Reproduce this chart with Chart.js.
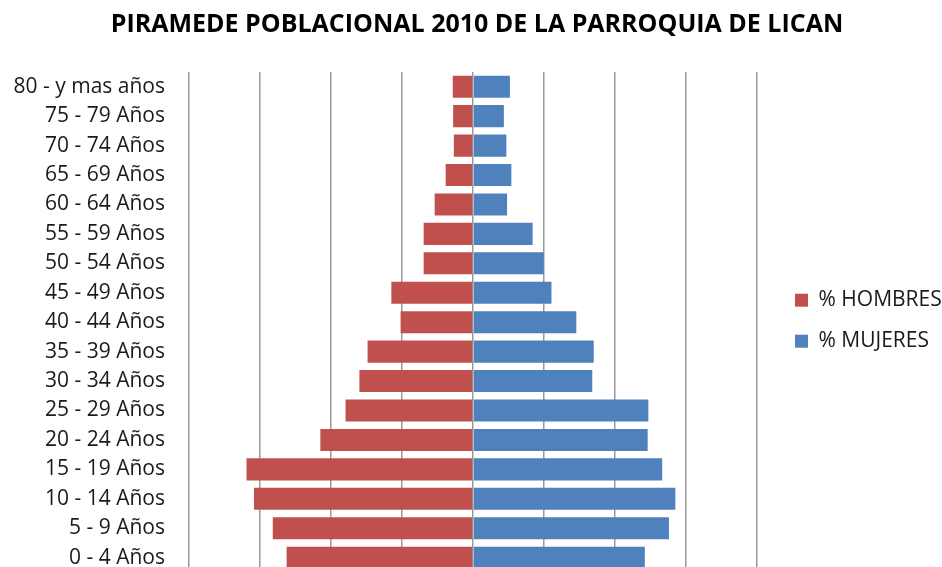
<!DOCTYPE html>
<html>
<head>
<meta charset="utf-8">
<script src="https://cdn.jsdelivr.net/npm/chart.js@4.4.1/dist/chart.umd.min.js"></script>
<style>
  html, body { margin: 0; padding: 0; background: #fff; overflow: hidden; }
  canvas { display: block; }
</style>
</head>
<body>
<canvas id="piramide" width="942" height="609"></canvas>
<script>
// grupos de edad, de arriba hacia abajo
var grupos = [
    '80 - y mas años', '75 - 79 Años', '70 - 74 Años', '65 - 69 Años',
    '60 - 64 Años', '55 - 59 Años', '50 - 54 Años', '45 - 49 Años',
    '40 - 44 Años', '35 - 39 Años', '30 - 34 Años', '25 - 29 Años',
    '20 - 24 Años', '15 - 19 Años', '10 - 14 Años', '5 - 9 Años', '0 - 4 Años'
];
// porcentajes
var hombres = [0.57, 0.56, 0.54, 0.77, 1.08, 1.39, 1.39, 2.30, 2.04, 2.97, 3.20, 3.59, 4.30, 6.38, 6.17, 5.64, 5.25];
var mujeres = [1.04, 0.87, 0.94, 1.08, 0.96, 1.68, 1.99, 2.21, 2.91, 3.40, 3.36, 4.94, 4.92, 5.33, 5.70, 5.52, 4.84];

var fuente = '"Open Sans", "Noto Sans", sans-serif';

var ctx = document.getElementById('piramide').getContext('2d');
var piramide = new Chart(ctx, {
    type: 'bar',
    data: {
        labels: grupos,
        datasets: [{
            label: '% HOMBRES',
            data: hombres.map(function (v) { return -v; }),
            backgroundColor: '#C0504D',
            barPercentage: 0.75,
            categoryPercentage: 1
        }, {
            label: '% MUJERES',
            data: mujeres,
            backgroundColor: '#4F81BD',
            barPercentage: 0.75,
            categoryPercentage: 1
        }]
    },
    options: {
        indexAxis: 'y',
        responsive: false,
        animation: false,
        layout: { padding: { left: 12, right: 0, top: 0, bottom: 8 } },
        scales: {
            x: {
                stacked: true,
                min: -8,
                max: 8,
                ticks: { display: false, stepSize: 2 },
                grid: { color: '#9a9a9a', lineWidth: 1.5, drawTicks: false },
                border: { display: false }
            },
            y: {
                stacked: true,
                grid: { display: false, drawTicks: false },
                border: { display: false },
                ticks: { color: '#1a1a1a', padding: 24, font: { family: fuente, size: 21 } },
                afterFit: function (s) { s.width = 177; }
            },
            hueco: {
                type: 'category',
                labels: grupos,
                position: 'right',
                grid: { display: false, drawTicks: false },
                border: { display: false },
                ticks: { display: false },
                afterFit: function (s) { s.width = 18; }
            }
        },
        plugins: {
            title: {
                display: true,
                text: 'PIRAMEDE POBLACIONAL 2010 DE LA PARROQUIA DE LICAN',
                color: '#000',
                font: { family: fuente, size: 25, weight: 'bold' },
                padding: { top: 10, bottom: 32 }
            },
            legend: {
                position: 'right',
                maxWidth: 167,
                title: { display: true, text: '', font: { size: 12 }, padding: { top: 0, bottom: 26 } },
                labels: {
                    color: '#1a1a1a',
                    boxWidth: 13,
                    boxHeight: 13,
                    padding: 20,
                    font: { family: fuente, size: 21 }
                }
            },
            tooltip: { enabled: false }
        }
    }
});
</script>
</body>
</html>
